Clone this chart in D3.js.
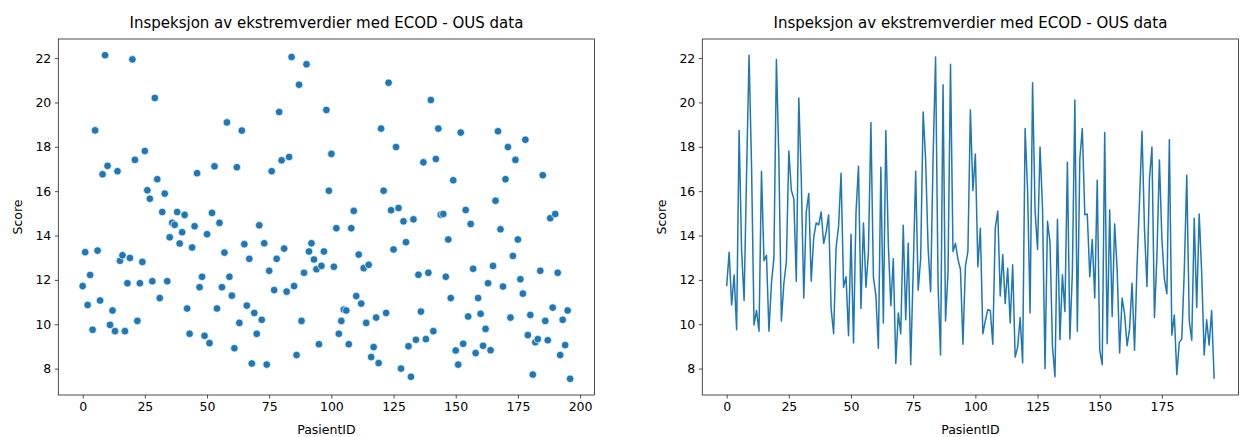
<!DOCTYPE html>
<html>
<head>
<meta charset="utf-8">
<script src="https://cdn.jsdelivr.net/npm/d3@7"></script>
<style>
  body { margin: 0; background: #fff; }
  text { font-family: "DejaVu Sans", sans-serif; fill: #000; }
</style>
</head>
<body>
<div id="chart"></div>
<script>
// ECOD score per patient, in PasientID order
const scores = [
  11.72, 13.25, 10.87, 12.22, 9.75, 18.74, 13.32, 11.07, 16.76, 22.13,
  17.14, 9.97, 10.62, 9.69, 16.90, 12.86, 13.11, 9.69, 11.85, 12.99,
  21.94, 17.41, 10.15, 11.85, 12.81, 17.81, 16.04, 15.66, 11.94, 20.20,
  16.54, 11.18, 15.06, 15.89, 11.94, 13.92, 14.57, 14.48, 15.06, 13.64,
  14.15, 14.93, 10.71, 9.57, 13.46, 14.42, 16.81, 11.67, 12.14, 9.48,
  14.06, 9.15, 15.02, 17.12, 10.71, 14.57, 11.67, 13.23, 19.10, 12.14,
  11.29, 8.92, 17.08, 10.06, 18.73, 13.61, 10.84, 12.95, 8.23, 10.51,
  9.57, 14.46, 10.20, 13.65, 8.18, 12.41, 16.90, 11.54, 12.95, 19.57,
  17.39, 13.41, 11.47, 17.54, 22.05, 11.72, 8.61, 20.80, 10.15, 12.32,
  21.72, 13.28, 13.65, 12.92, 12.48, 9.10, 12.63, 13.28, 19.66, 16.02,
  17.68, 12.59, 14.33, 9.57, 10.15, 10.66, 10.62, 9.10, 14.33, 15.11,
  11.27, 13.14, 10.93, 12.53, 10.06, 12.68, 8.52, 8.97, 10.30, 8.25,
  18.82, 16.02, 10.51, 20.89, 15.14, 13.37, 17.99, 15.24, 8.00, 14.64,
  13.70, 9.01, 7.63, 14.73, 9.30, 12.23, 10.57, 17.30, 9.33, 12.32,
  20.11, 9.69, 17.45, 18.82, 14.94, 14.97, 12.14, 13.82, 11.18, 16.49,
  8.82, 8.18, 18.64, 9.12, 15.15, 10.35, 14.52, 12.50, 8.70, 11.18,
  10.47, 9.03, 9.79, 11.85, 8.83, 12.63, 15.57, 18.70, 14.28, 11.70,
  16.54, 17.99, 10.30, 13.08, 17.41, 13.82, 12.03, 11.38, 18.32, 9.51,
  10.42, 7.73, 9.19, 9.33, 12.41, 16.72, 10.15, 9.28, 14.78, 10.75,
  14.97, 12.32, 8.61, 10.20, 9.06, 10.62, 7.54
]
const pasientID = scores.map((d, i) => i)

const xTicksLeft = [0, 25, 50, 75, 100, 125, 150, 175, 200]
const xTicksRight = [0, 25, 50, 75, 100, 125, 150, 175]
const yTicks = [8, 10, 12, 14, 16, 18, 20, 22]

const title = 'Inspeksjon av ekstremverdier med ECOD - OUS data'

const W = 1246, H = 437
const color = '#1f77b4'

const svg = d3.select('#chart').append('svg')
    .attr('width', W)
    .attr('height', H)

const data = pasientID.map((id, i) => ({ id: id, score: scores[i] }))

// matplotlib-like 5% margins around the data
function padded(ext) {
  const p = (ext[1] - ext[0]) * 0.05
  return [ext[0] - p, ext[1] + p]
}

const xDomain = padded(d3.extent(pasientID))
const yDomain = padded(d3.extent(scores))

const plotTop = 39, plotBottom = 395

function panel(left, right, xTicks, kind) {
  const g = svg.append('g')

  const x = d3.scaleLinear().domain(xDomain).range([left, right])
  const y = d3.scaleLinear().domain(yDomain).range([plotBottom, plotTop])

  if (kind === 'scatter') {
    g.append('g').selectAll('circle')
      .data(data)
      .enter().append('circle')
        .attr('cx', d => x(d.id))
        .attr('cy', d => y(d.score))
        .attr('r', 3.8)
        .attr('fill', color)
        .attr('stroke', '#fff')
        .attr('stroke-width', 0.7)
  } else {
    const line = d3.line()
        .x(d => x(d.id))
        .y(d => y(d.score))
    g.append('path')
        .datum(data)
        .attr('d', line)
        .attr('fill', 'none')
        .attr('stroke', color)
        .attr('stroke-width', 1.5)
        .attr('stroke-linejoin', 'round')
  }

  // frame
  g.append('rect')
      .attr('x', left).attr('y', plotTop)
      .attr('width', right - left).attr('height', plotBottom - plotTop)
      .attr('fill', 'none')
      .attr('stroke', '#222')
      .attr('stroke-width', 0.8)

  const xAxis = d3.axisBottom(x).tickValues(xTicks.filter(t => x(t) <= right))
      .tickSizeInner(3.5).tickSizeOuter(0).tickPadding(3.5)
  const yAxis = d3.axisLeft(y).tickValues(yTicks)
      .tickSizeInner(3.5).tickSizeOuter(0).tickPadding(3.5)

  const gx = g.append('g').attr('transform', 'translate(0,' + plotBottom + ')').call(xAxis)
  const gy = g.append('g').attr('transform', 'translate(' + left + ',0)').call(yAxis)
  for (const a of [gx, gy]) {
    a.select('.domain').remove()
    a.selectAll('.tick line').attr('stroke', '#222').attr('stroke-width', 0.8)
    a.selectAll('.tick text').style('font-size', '12.5px').attr('fill', '#000')
  }

  g.append('text')
      .attr('x', (left + right) / 2).attr('y', 28)
      .attr('text-anchor', 'middle')
      .style('font-size', '15px')
      .text(title)

  g.append('text')
      .attr('x', (left + right) / 2).attr('y', 434)
      .attr('text-anchor', 'middle')
      .style('font-size', '12.5px')
      .text('PasientID')

  g.append('text')
      .attr('transform', 'translate(' + (left - 36) + ',' + ((plotTop + plotBottom) / 2) + ') rotate(-90)')
      .attr('text-anchor', 'middle')
      .style('font-size', '12.5px')
      .text('Score')
}

panel(58.3, 594.5, xTicksLeft, 'scatter')
panel(702.3, 1238.5, xTicksRight, 'line')
</script>
</body>
</html>
